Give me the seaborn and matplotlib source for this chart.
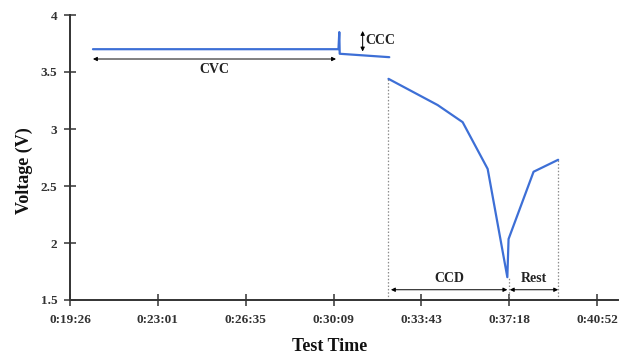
import matplotlib
matplotlib.use("Agg")
import matplotlib.pyplot as plt
import seaborn as sns
import pandas as pd

# ---- data (seconds since 0:00:00, volts) ----
seg_cc_cv_t = [1222, 1821, 1823, 1824, 1945]
seg_cc_cv_v = [3.70, 3.70, 3.85, 3.66, 3.63]
seg_dis_t = [1943, 2063, 2124, 2185, 2233, 2236, 2297, 2357]
seg_dis_v = [3.44, 3.21, 3.06, 2.65, 1.70, 2.035, 2.625, 2.73]

xtick_pos = [1166, 1380.3, 1594.6, 1808.9, 2023.1, 2237.4, 2451.7]
xtick_labels = ["0:19:26", "0:23:01", "0:26:35", "0:30:09", "0:33:43", "0:37:18", "0:40:52"]
ytick_pos = [1.5, 2, 2.5, 3, 3.5, 4]
ytick_labels = ["1.5", "2", "2.5", "3", "3.5", "4"]

# guide markers
guide_t = [1943, 2236, 2357]
guide_v = [3.44, 1.70, 2.73]

df = pd.DataFrame({
    "t": seg_cc_cv_t + seg_dis_t,
    "v": seg_cc_cv_v + seg_dis_v,
    "seg": ["a"] * len(seg_cc_cv_t) + ["b"] * len(seg_dis_t),
})

sns.set_style("white")
plt.rcParams["font.family"] = ["Liberation Serif", "DejaVu Serif"]

fig = plt.figure(figsize=(6.28, 3.58), dpi=100)
ax = fig.add_axes([70 / 628, 1 - 300 / 358, (618 - 70) / 628, 285 / 358])

blue = "#3d6fd6"
sns.lineplot(data=df, x="t", y="v", units="seg", estimator=None, sort=False,
             color=blue, lw=1.6, ax=ax, legend=False)

ax.set_xlim(1166, 2503)
ax.set_ylim(1.5, 4.0)

# dotted guides
ax.vlines(guide_t, 1.5, guide_v, colors="#8c8c8c", linestyles=(0, (1.2, 1.5)), lw=0.9, zorder=1)

arrow_kw = dict(arrowstyle="<|-|>", color="black", lw=0.7, mutation_scale=6, shrinkA=0, shrinkB=0)
tk = dict(fontsize=10, fontweight="bold", color="#222222")
# CVC
ax.annotate("", xy=(1222, 3.614), xytext=(1815, 3.614), arrowprops=arrow_kw)
ax.text(1518, 3.52, "CVC", ha="center", va="center", **tk)
# CCC
ax.annotate("", xy=(1880, 3.86), xytext=(1880, 3.68), arrowprops=arrow_kw)
ax.text(1886, 3.775, "CCC", ha="left", va="center", **tk)
# CCD
ax.annotate("", xy=(1949, 1.59), xytext=(2233, 1.59), arrowprops=arrow_kw)
ax.text(2091, 1.685, "CCD", ha="center", va="center", **tk)
# Rest
ax.annotate("", xy=(2239, 1.59), xytext=(2357, 1.59), arrowprops=arrow_kw)
ax.text(2297, 1.685, "Rest", ha="center", va="center", **tk)

ax.set_xticks(xtick_pos)
ax.set_xticklabels(xtick_labels)
ax.set_yticks(ytick_pos)
ax.set_yticklabels(ytick_labels)
for lab in ax.get_xticklabels() + ax.get_yticklabels():
    lab.set_fontweight("bold")
    lab.set_color("#333333")
ax.tick_params(axis="both", which="major", bottom=True, left=True, direction="inout",
               length=8, width=1.1, color="#333333", labelsize=9.5)
ax.tick_params(axis="x", pad=6)
ax.tick_params(axis="y", pad=5)

for s in ["top", "right"]:
    ax.spines[s].set_visible(False)
for s in ["left", "bottom"]:
    ax.spines[s].set_color("#333333")
    ax.spines[s].set_linewidth(1.4)

ax.set_xlabel("Test Time", fontsize=13, fontweight="bold", color="#111111")
ax.set_ylabel("Voltage (V)", fontsize=13, fontweight="bold", color="#111111")
ax.xaxis.set_label_coords(0.473, -0.133)
ax.yaxis.set_label_coords(-0.0675, 0.453)
ax.grid(False)

fig.savefig("out.png", dpi=100)
